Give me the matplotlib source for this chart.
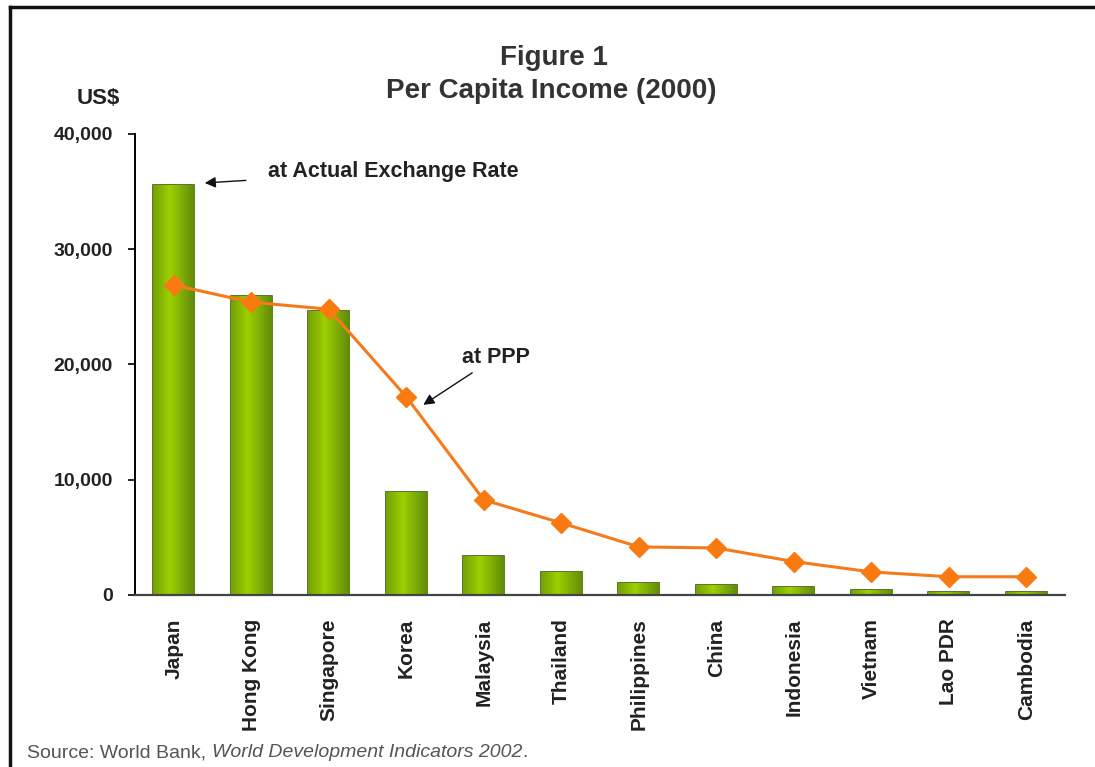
import numpy as np
import matplotlib.pyplot as plt
from matplotlib.colors import LinearSegmentedColormap

# Per capita income, 2000 (US$)
countries = ['Japan', 'Hong Kong', 'Singapore', 'Korea', 'Malaysia', 'Thailand',
             'Philippines', 'China', 'Indonesia', 'Vietnam', 'Lao PDR', 'Cambodia']
actual_rate = [35600, 25900, 24600, 8900, 3400, 2000, 1040, 860, 700, 390, 300, 270]
ppp = [26900, 25400, 24800, 17200, 8250, 6250, 4170, 4080, 2900, 2000, 1580, 1580]
yticks = [0, 10000, 20000, 30000, 40000]

plt.rcParams['font.family'] = ['Liberation Sans', 'DejaVu Sans']
dark = '#222222'

fig = plt.figure(figsize=(10.95, 7.67), dpi=100)
ax = fig.add_axes([0.1233, 0.2243, 0.8493, 0.601])

x = np.arange(len(countries))
width = 0.53

# bars, with a horizontal green gradient clipped to each bar
grad = np.linspace(0, 1, 64)
shade = 1 - np.abs(grad - 0.4) / 0.6
cmap = LinearSegmentedColormap.from_list('g', ['#5f8a0c', '#9dcf00'])
bars = ax.bar(x, actual_rate, width, color='#8cc21a', edgecolor='#3f5a0c', linewidth=1.2, zorder=2)
for b in bars:
    bx, by = b.get_x(), b.get_y()
    im = ax.imshow(shade[np.newaxis, :], cmap=cmap, aspect='auto',
                   extent=[bx, bx + b.get_width(), by, by + b.get_height()], zorder=2)
    im.set_clip_path(b)

# PPP line
ax.plot(x, ppp, color='#f57a1c', linewidth=2.2, marker='D', markersize=10,
        markerfacecolor='#f87a10', markeredgecolor='#f87a10', zorder=4)

ax.set_xlim(-0.5, len(countries) - 0.5)
ax.set_ylim(0, 40000)
ax.set_yticks(yticks)
ax.set_yticklabels([f'{v:,}' for v in yticks], fontsize=14, fontweight='bold', color=dark)
ax.set_xticks(x)
ax.set_xticklabels(countries, rotation=90, fontsize=15, fontweight='bold', color=dark)
ax.tick_params(axis='x', length=0, pad=17)
ax.tick_params(axis='y', length=5, width=1.2, direction='out', pad=11)
for t in ax.get_xticklabels():
    t.set_va('top')
for s in ['top', 'right']:
    ax.spines[s].set_visible(False)
ax.spines['left'].set_linewidth(1.4)
ax.spines['bottom'].set_linewidth(1.6)
ax.spines['bottom'].set_color('#444444')

# titles
fig.text(0.506, 0.915, 'Figure 1', ha='center', va='baseline', fontsize=20,
         fontweight='bold', color='#333333')
fig.text(0.503, 0.872, 'Per Capita Income (2000)', ha='center', va='baseline', fontsize=20,
         fontweight='bold', color='#333333')
fig.text(0.09, 0.864, 'US$', ha='center', va='baseline', fontsize=16, fontweight='bold', color=dark)

# annotations
ax.annotate('at Actual Exchange Rate', xy=(0.40, 35750), xytext=(1.216, 36300),
            fontsize=15.5, fontweight='bold', color=dark, va='baseline',
            arrowprops=dict(arrowstyle='-|>', color='#111111', lw=1, mutation_scale=16,
                            shrinkA=14, shrinkB=0))
ax.annotate('at PPP', xy=(3.22, 16500), xytext=(3.72, 20150),
            fontsize=15.5, fontweight='bold', color=dark, va='baseline',
            arrowprops=dict(arrowstyle='-|>', color='#111111', lw=1, mutation_scale=16,
                            shrinkA=3, shrinkB=0))

# source note: regular text, then the italic title
src = fig.text(0.025, 0.013, 'Source: World Bank, ', fontsize=14, color='#555555', va='baseline')
src2 = fig.text(0, 0.013, 'World Development Indicators 2002', fontsize=14, color='#555555',
                style='italic', va='baseline')
fig.canvas.draw()
inv = fig.transFigure.inverted()
bb = src.get_window_extent()
src2.set_x(inv.transform((bb.x1, bb.y0))[0])
fig.canvas.draw()
bb2 = src2.get_window_extent()
fig.text(inv.transform((bb2.x1, bb2.y0))[0], 0.013, '.', fontsize=14, color='#555555', va='baseline')

# frame lines (top and left)
fig.add_artist(plt.Line2D([0.009, 0.009], [0, 0.991], color='#111111', lw=2.5))
fig.add_artist(plt.Line2D([0.009, 1.0], [0.991, 0.991], color='#111111', lw=2.5))

fig.savefig('out.png', dpi=100)
